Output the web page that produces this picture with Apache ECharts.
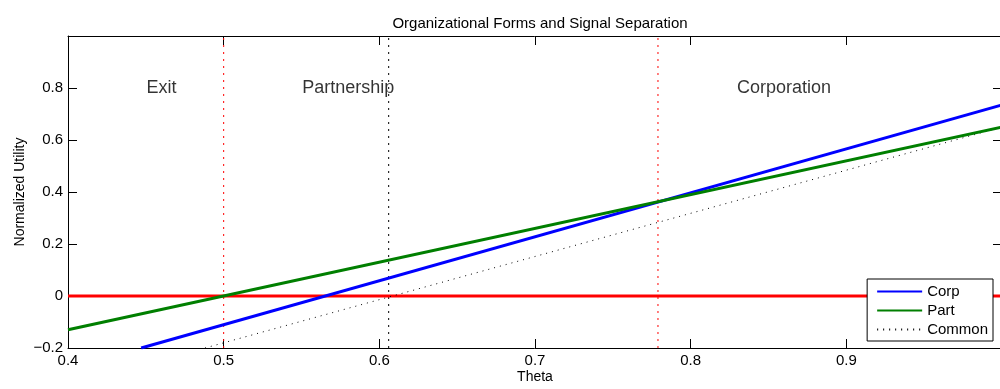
<!DOCTYPE html>
<html><head><meta charset="utf-8">
<script src="https://cdn.jsdelivr.net/npm/echarts@6/dist/echarts.min.js"></script>
<style>html,body{margin:0;padding:0;background:#fff}#c{width:1000px;height:389px}</style>
</head><body><div id="c"></div>
<script>
const title = 'Organizational Forms and Signal Separation';
const xName = 'Theta';
const yName = 'Normalized Utility';
const corp = [[0.447, -0.2], [1.0, 0.735]];
const part = [[0.4, -0.13], [1.0, 0.65]];
const common = [[0.488, -0.2], [1.0, 0.65]];
const zeroLine = [[0.4, 0], [1.0, 0]];
const redCuts = [0.5, 0.779];
const blackCut = [0.606];
const regionLabels = [
  {name: 'Exit', value: [0.46, 0.8]},
  {name: 'Partnership', value: [0.58, 0.8]},
  {name: 'Corporation', value: [0.86, 0.8]}
];
const xMin = 0.4, xMax = 1.0, xStep = 0.1;
const yMin = -0.2, yMax = 1.0, yStep = 0.2;

const FONT = 'Liberation Sans, Arial, Helvetica, sans-serif';
const chart = echarts.init(document.getElementById('c'), null, {renderer: 'canvas'});
const fmt1 = v => {
  const s = (Math.round(v * 10) / 10);
  return s === 0 ? '0' : String(s).replace('-', '\u2212');
};
const vSeries = (xs, color) => xs.map(x => ({
  type: 'line', data: [[x, yMin], [x, yMax]], symbol: 'none', silent: true,
  lineStyle: {color, width: 1, type: [2, 5]}, z: 2
}));
const tick = {show: true, inside: true, length: 9, lineStyle: {color: '#000', width: 1}};
const axLine = {show: true, onZero: false, lineStyle: {color: '#000', width: 1}};
chart.setOption({
  animation: false,
  title: {text: title, left: 535, top: 11, textAlign: 'center',
    textStyle: {fontFamily: FONT, fontSize: 15, fontWeight: 'normal', color: '#000'}},
  grid: {left: 68, top: 36, width: 934, height: 312, containLabel: false, outerBoundsMode: 'none'},
  legend: {
    orient: 'vertical', right: 7, bottom: 48,
    backgroundColor: '#fff', borderColor: '#000', borderWidth: 1,
    padding: [5, 5, 4, 9], itemWidth: 45, itemHeight: 14, itemGap: 4,
    itemStyle: {opacity: 0},
    textStyle: {fontFamily: FONT, fontSize: 15, color: '#000'},
    data: ['Corp', 'Part', 'Common']
  },
  xAxis: [{
    type: 'value', min: xMin, max: xMax, interval: xStep,
    name: xName, nameLocation: 'middle', nameGap: 22, nameMoveOverlap: false,
    nameTextStyle: {fontFamily: FONT, fontSize: 14, color: '#000'},
    axisLine: axLine, axisTick: tick,
    axisLabel: {fontFamily: FONT, fontSize: 15, color: '#000', margin: 5,
      formatter: v => (Math.abs(v - xMax) < 1e-9 ? '' : fmt1(v))},
    splitLine: {show: false}
  }, {
    type: 'value', min: xMin, max: xMax, interval: xStep, position: 'top',
    axisLine: axLine, axisTick: tick,
    axisLabel: {show: false}, splitLine: {show: false}
  }],
  yAxis: [{
    type: 'value', min: yMin, max: yMax, interval: yStep,
    name: yName, nameLocation: 'middle', nameGap: 41, nameRotate: 90, nameMoveOverlap: false,
    nameTextStyle: {fontFamily: FONT, fontSize: 14, color: '#000'},
    axisLine: axLine, axisTick: tick,
    axisLabel: {fontFamily: FONT, fontSize: 15, color: '#000', margin: 5,
      formatter: v => (Math.abs(v - yMax) < 1e-9 ? '' : fmt1(v))},
    splitLine: {show: false}
  }, {
    type: 'value', min: yMin, max: yMax, interval: yStep, position: 'right',
    axisLine: axLine, axisTick: tick,
    axisLabel: {show: false}, splitLine: {show: false}
  }],
  series: [
    {name: 'Zero', type: 'line', data: zeroLine, symbol: 'none', silent: true,
      lineStyle: {color: '#ff0000', width: 3}, z: 3},
    ...vSeries(redCuts, '#ff0000'),
    ...vSeries(blackCut, '#000000'),
    {name: 'Corp', type: 'line', data: corp, symbol: 'none', clip: true,
      lineStyle: {color: '#0000ff', width: 3}, itemStyle: {color: '#0000ff'}, z: 4},
    {name: 'Part', type: 'line', data: part, symbol: 'none', clip: true,
      lineStyle: {color: '#007f00', width: 3}, itemStyle: {color: '#007f00'}, z: 5},
    {name: 'Common', type: 'line', data: common, symbol: 'none', clip: true,
      lineStyle: {color: '#000', width: 1, type: [1, 5]}, itemStyle: {color: '#000'}, z: 4},
    {name: 'Labels', type: 'scatter', data: regionLabels, symbolSize: 0, silent: true,
      label: {show: true, position: 'inside', formatter: p => p.name,
        fontFamily: FONT, fontSize: 18, color: '#000'}}
  ]
});
</script></body></html>
